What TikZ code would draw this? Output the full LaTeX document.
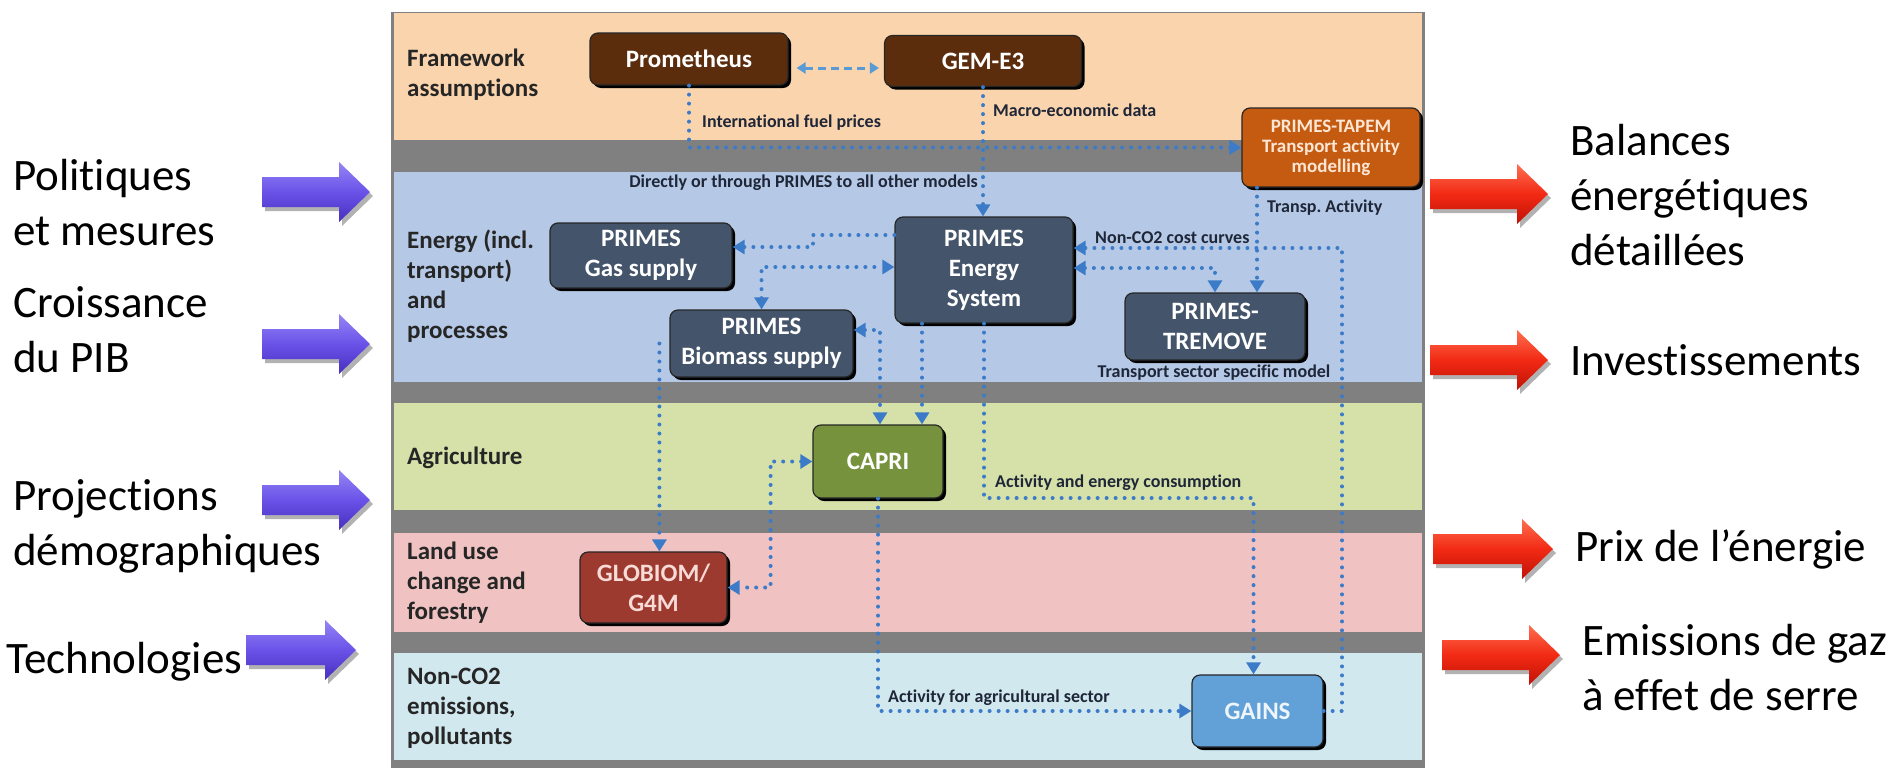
\documentclass[tikz,border=0pt]{standalone}
\usepackage{fontspec}
\setmainfont{Carlito}[Ligatures={NoCommon}]
\usetikzlibrary{arrows.meta,shadows}
\definecolor{peach}{HTML}{FAD4AC}
\definecolor{bandgray}{HTML}{808080}
\definecolor{enblue}{HTML}{B5C9E6}
\definecolor{agri}{HTML}{D6E1A9}
\definecolor{land}{HTML}{F0C2C2}
\definecolor{nonco}{HTML}{D1E8EF}
\definecolor{brownbox}{HTML}{5C2D0D}
\definecolor{tapem}{HTML}{C55A11}
\definecolor{tapemtext}{HTML}{FCE6D4}
\definecolor{primes}{HTML}{44546A}
\definecolor{capri}{HTML}{76923C}
\definecolor{globiom}{HTML}{9C3A30}
\definecolor{globtext}{HTML}{F8DAD6}
\definecolor{gains}{HTML}{62A0D8}
\definecolor{gainstext}{HTML}{EEF5FB}
\definecolor{dotblue}{HTML}{3B7BC8}
\definecolor{dashblue}{HTML}{5B9BD5}
\definecolor{labeltext}{HTML}{262626}
\definecolor{smalltext}{HTML}{1E2638}
\tikzset{
  model/.style={rounded corners=8pt, align=center, draw=black!85, line width=1.2pt,
    font=\fontsize{25}{30}\selectfont\bfseries, text=white, inner sep=0pt,
    general shadow={fill=black, shadow xshift=3pt, shadow yshift=-3pt}},
  sectionlabel/.style={anchor=west, align=left, inner sep=0pt, text=labeltext,
    font=\fontsize{25}{30}\selectfont\bfseries},
  smalllabel/.style={inner sep=0pt, text=smalltext, font=\fontsize{18}{21}\selectfont\bfseries},
  outertext/.style={anchor=west, align=left, inner sep=0pt, text=black,
    font=\fontsize{45}{55}\selectfont},
  dotline/.style={draw=dotblue, line width=4pt, dash pattern=on 0pt off 9pt, line cap=round,
    arrows={-Triangle[length=12pt,width=14pt]}},
  dotboth/.style={dotline, arrows={Triangle[length=12pt,width=14pt]-Triangle[length=12pt,width=14pt]}},
  dashboth/.style={draw=dashblue, line width=3pt, dash pattern=on 8pt off 5pt,
    arrows={Triangle[length=9pt,width=11pt]-Triangle[length=9pt,width=11pt]}},
  inarrow/.style={top color=InArrowTop, bottom color=InArrowBot, middle color=InArrowMid,
    drop shadow={shadow xshift=3pt, shadow yshift=-4pt, opacity=0.3, fill=black}},
  outarrow/.style={top color=OutArrowTop, bottom color=OutArrowBot, middle color=OutArrowMid,
    drop shadow={shadow xshift=3pt, shadow yshift=-4pt, opacity=0.3, fill=black}},
}
\definecolor{InArrowTop}{HTML}{9485F4}
\definecolor{InArrowMid}{HTML}{6A52E8}
\definecolor{InArrowBot}{HTML}{4630BE}
\definecolor{OutArrowTop}{HTML}{FF6E50}
\definecolor{OutArrowMid}{HTML}{F22A14}
\definecolor{OutArrowBot}{HTML}{C01206}
\newcommand\blockarrow[4]{%
  \path[#1] (#2,#4-15) -- (#3-31,#4-15) -- (#3-31,#4-30) -- (#3,#4) -- (#3-31,#4+30)
    -- (#3-31,#4+15) -- (#2,#4+15) -- cycle;}
\begin{document}
\begin{tikzpicture}[x=1pt,y=-1pt]
\useasboundingbox (0,0) rectangle (1903,772);
\fill[white] (0,0) rectangle (1903,772);
% panel bands
\fill[bandgray] (391,12) rectangle (1425,768);
\fill[peach] (394,13) rectangle (1422,140);
\fill[enblue] (394,172) rectangle (1422,382);
\fill[agri] (394,403) rectangle (1422,510);
\fill[land] (394,533) rectangle (1422,632);
\fill[nonco] (394,653) rectangle (1422,760);
% section labels
\node[sectionlabel] (lframe) at (407,75) {Framework\\assumptions};
\node[sectionlabel] (lenergy) at (407,286) {Energy (incl.\\transport)\\and\\processes};
\node[sectionlabel] (lagri) at (407,458) {Agriculture};
\node[sectionlabel] (lland) at (407,583) {Land use\\change and\\forestry};
\node[sectionlabel] (lnonco) at (407,708) {Non-CO2\\emissions,\\pollutants};
% models
\node[model, fill=brownbox, minimum width=198pt, minimum height=52pt] (prom) at (689,59) {Prometheus};
\node[model, fill=brownbox, minimum width=197pt, minimum height=51pt] (gem) at (983,61) {GEM-E3};
\node[model, fill=tapem, text=tapemtext, font=\fontsize{19}{20}\selectfont\bfseries,
  minimum width=178pt, minimum height=79pt] (tapem) at (1331,147.5) {PRIMES-TAPEM\\Transport activity\\modelling};
\node[model, fill=primes, minimum width=178pt, minimum height=106pt] (energy) at (984,270) {PRIMES\\Energy\\System};
\node[model, fill=primes, minimum width=182pt, minimum height=65pt] (gas) at (641,255.5) {PRIMES\\Gas supply};
\node[model, fill=primes, minimum width=183pt, minimum height=67pt] (bio) at (761.5,343.5) {PRIMES\\Biomass supply};
\node[model, fill=primes, minimum width=180pt, minimum height=67pt] (tremove) at (1215,326.5) {PRIMES-\\TREMOVE};
\node[model, fill=capri, minimum width=130pt, minimum height=73pt] (capri) at (878,461.5) {CAPRI};
\node[model, fill=globiom, text=globtext, minimum width=147pt, minimum height=71pt] (globiom) at (653.5,587.5) {GLOBIOM/\\G4M};
\node[model, fill=gains, text=gainstext, minimum width=131pt, minimum height=72pt] (gains) at (1257.5,711) {GAINS};
% connectors
\draw[dashboth] ([xshift=8pt,yshift=-9pt]prom.east) -- ([xshift=-5pt,yshift=-7pt]gem.west);
\draw[dotline] (prom.south) |- (tapem.west);
\draw[dotline] (gem.south) -- (gem.south |- energy.north);
\draw[dotline] (energy.west |- 0,235) -- (813,235) -- (813,247) -- (gas.east |- 0,247);
\draw[dotboth] (bio.north) |- (energy.west |- 0,267);
\draw[dotboth] (bio.east |- 0,330) -| ([xshift=2pt]capri.north);
\draw[dotline] ([xshift=-62pt]energy.south) -- ([xshift=-62pt]energy.south |- capri.north);
\draw[dotline] (energy.south) -- (energy.south |- 0,498) -| ([xshift=-4pt]gains.north);
\draw[dotline] (capri.south) |- (gains.west);
\draw[dotboth] (capri.west) -| ([xshift=43pt]globiom.east) -- (globiom.east);
\draw[dotline] ([xshift=-10pt]bio.west) -- ([xshift=-10pt]bio.west |- globiom.north);
\draw[dotline] (gains.east) -| (1342,248) -- (energy.east |- 0,248);
\draw[dotboth] (energy.east |- 0,268) -| (tremove.north);
\draw[dotline] ([xshift=-74pt]tapem.south) -- ([xshift=-74pt]tapem.south |- tremove.north);
% connector labels
\node[smalllabel, anchor=west] (tfuel) at (702,123) {International fuel prices};
\node[smalllabel, anchor=west] (tmacro) at (993,110) {Macro-economic data};
\node[smalllabel, anchor=east] (tdirect) at (978,183) {Directly or through PRIMES to all other models};
\node[smalllabel, anchor=west] (ttransp) at (1267,208) {Transp.\ Activity};
\node[smalllabel, anchor=west] (tnonco) at (1095,238) {Non-CO2 cost curves};
\node[smalllabel] (tsector) at (1214,373) {Transport sector specific model};
\node[smalllabel, anchor=west] (tactiv) at (995,483) {Activity and energy consumption};
\node[smalllabel, anchor=west] (tagri) at (888,698) {Activity for agricultural sector};
% outer inputs
\node[outertext] (in1) at (13,203) {Politiques\\et mesures};
\node[outertext] (in2) at (13,330) {Croissance\\du PIB};
\node[outertext] (in3) at (13,526) {Projections\\démographiques};
\node[outertext] (in4) at (6,662) {Technologies};
\blockarrow{inarrow}{262}{370}{192}
\blockarrow{inarrow}{262}{370}{344}
\blockarrow{inarrow}{262}{370}{500}
\blockarrow{inarrow}{246}{356}{650}
% outer outputs
\node[outertext] (out1) at (1570,195) {Balances\\énergétiques\\détaillées};
\node[outertext] (out2) at (1570,360) {Investissements};
\node[outertext] (out3) at (1575,549) {Prix de l’énergie};
\node[outertext] (out4) at (1582,668) {Emissions de gaz\\à effet de serre};
\blockarrow{outarrow}{1430}{1548}{194}
\blockarrow{outarrow}{1430}{1548}{360}
\blockarrow{outarrow}{1433}{1553}{549}
\blockarrow{outarrow}{1442}{1560}{655}
\end{tikzpicture}
\end{document}
